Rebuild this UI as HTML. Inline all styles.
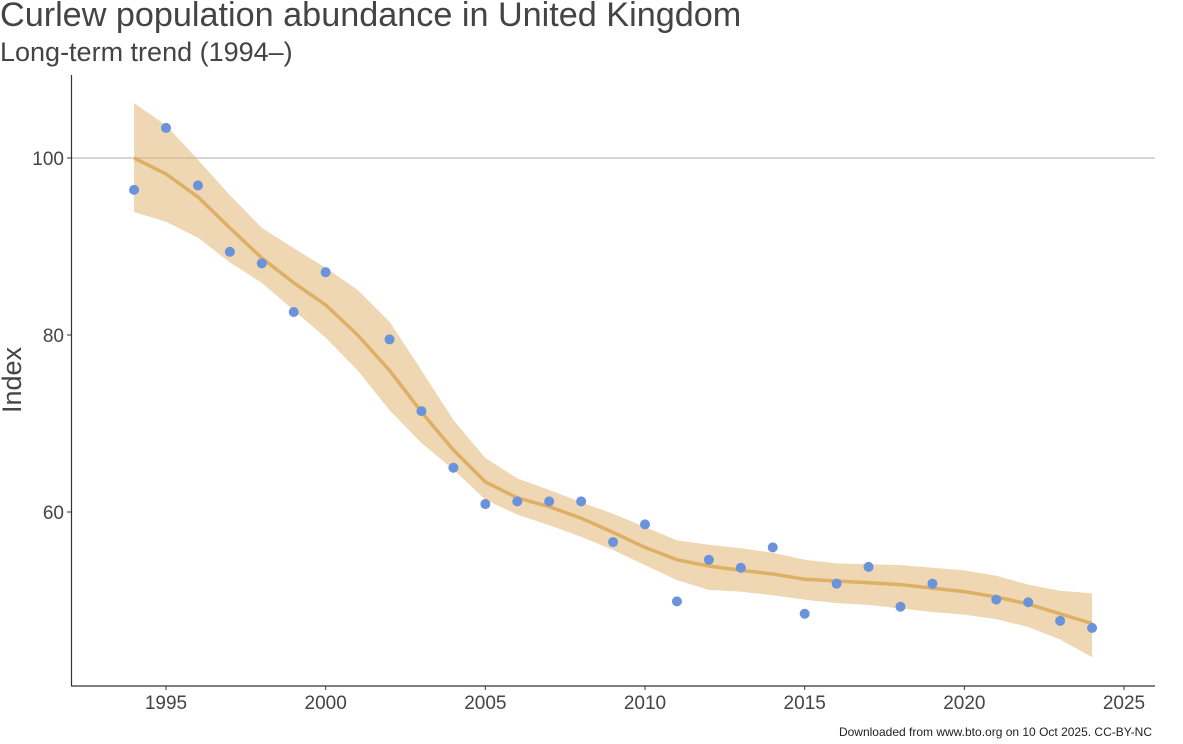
<!DOCTYPE html>
<html><head><meta charset="utf-8">
<style>
html,body{margin:0;padding:0;background:#fff;}
body{width:1183px;height:739px;overflow:hidden;font-family:"Liberation Sans",sans-serif;}
</style></head>
<body>
<svg id="chart" width="1183" height="739" xmlns="http://www.w3.org/2000/svg" font-family="Liberation Sans, sans-serif">
<text x="0" y="26" font-size="34.2" fill="#444">Curlew population abundance in United Kingdom</text>
<text x="0" y="61" font-size="27" fill="#444">Long-term trend (1994–)</text>
<text transform="translate(21,380) rotate(-90)" text-anchor="middle" font-size="27" fill="#444">Index</text>
<text x="1152" y="736" text-anchor="end" font-size="12" fill="#222">Downloaded from www.bto.org on 10 Oct 2025. CC-BY-NC</text>
<g id="plot"></g>
</svg>
<script>
const years = [1994,1995,1996,1997,1998,1999,2000,2001,2002,2003,2004,2005,2006,2007,2008,2009,2010,2011,2012,2013,2014,2015,2016,2017,2018,2019,2020,2021,2022,2023,2024];
const trend = [100,98.2,95.6,92.1,88.7,85.9,83.4,80.0,76.0,71.3,67.0,63.4,61.6,60.6,59.3,57.7,56.0,54.6,53.9,53.4,53.0,52.4,52.2,52.0,51.8,51.4,51.0,50.4,49.6,48.5,47.4];
const upper = [106.2,103.7,99.8,95.8,92.1,89.8,87.6,85.1,81.5,76.0,70.4,66.1,63.8,62.5,61.1,59.8,58.3,56.8,56.3,55.9,55.4,54.6,54.2,54.1,54.0,53.7,53.4,52.8,51.8,51.1,50.8];
const lower = [93.9,92.8,91.0,88.2,85.9,82.8,79.7,76.0,71.5,67.8,64.8,61.4,59.7,58.5,57.2,55.7,54.0,52.3,51.2,51.0,50.6,50.1,49.7,49.5,49.1,48.7,48.4,47.9,47.0,45.6,43.6];
const pointYears = [1994,1995,1996,1997,1998,1999,2000,2002,2003,2004,2005,2006,2007,2008,2009,2010,2011,2012,2013,2014,2015,2016,2017,2018,2019,2021,2022,2023,2024];
const pointValues = [96.4,103.4,96.9,89.4,88.1,82.6,87.1,79.5,71.4,65.0,60.9,61.2,61.2,61.2,56.6,58.6,49.9,54.6,53.7,56.0,48.5,51.9,53.8,49.3,51.9,50.1,49.8,47.7,46.9];
const xTicks = [1995,2000,2005,2010,2015,2020,2025];
const yTicks = [60,80,100];

const NS="http://www.w3.org/2000/svg";
const g=document.getElementById('plot');
function X(v){return 166+(v-1995)*(1124-166)/30;}
function Y(v){return 158+(100-v)*(512-158)/40;}
function mk(tag,attrs){const e=document.createElementNS(NS,tag);for(const k in attrs)e.setAttribute(k,attrs[k]);g.appendChild(e);return e;}

let ref=mk('line',{x1:72,x2:1155,y1:Y(100),y2:Y(100),stroke:'#c8c8c8','stroke-width':1.5});



let d='M'+years.map((yr,i)=>X(yr)+','+Y(upper[i])).join(' L');
for(let i=years.length-1;i>=0;i--) d+=' L'+X(years[i])+','+Y(lower[i]);
d+=' Z';
let band=mk('path',{d:d,fill:'#ddb066','fill-opacity':0.5,stroke:'none'});



let tl=mk('polyline',{points:years.map((yr,i)=>X(yr)+','+Y(trend[i])).join(' '),fill:'none',stroke:'#ddb066','stroke-width':3.5,'stroke-linejoin':'round'});



pointYears.forEach((yr,i)=>{
  const c=mk('circle',{cx:X(yr),cy:Y(pointValues[i]),r:5,fill:'#6a93dc'});
  
  
});

let ya=mk('line',{x1:71.5,x2:71.5,y1:75,y2:686.5,stroke:'#333','stroke-width':1.2});


let xa=mk('line',{x1:71,x2:1155,y1:686,y2:686,stroke:'#333','stroke-width':1.2});



xTicks.forEach(t=>{
  const l=mk('line',{x1:X(t),x2:X(t),y1:686,y2:690,stroke:'#333','stroke-width':1});
  
  
  const tx=mk('text',{x:X(t),y:709,'text-anchor':'middle','font-size':19,fill:'#444'});
  tx.textContent=t;
  
  
});
yTicks.forEach(t=>{
  const l=mk('line',{x1:67,x2:71,y1:Y(t),y2:Y(t),stroke:'#333','stroke-width':1});
  
  
  const tx=mk('text',{x:64,y:Y(t)+7,'text-anchor':'end','font-size':19,fill:'#444'});
  tx.textContent=t;
  
  
});
</script>
</body></html>
